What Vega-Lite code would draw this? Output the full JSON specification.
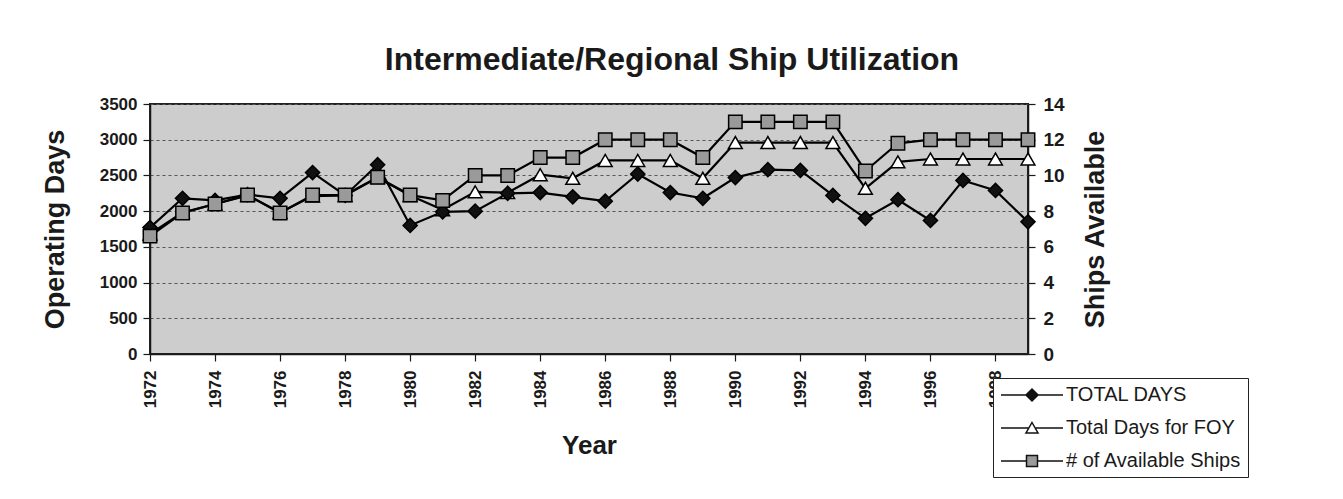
{
  "$schema": "https://vega.github.io/schema/vega-lite/v6.json",
  "width": 878,
  "height": 250,
  "autosize": {"type": "none"},
  "padding": {"left": 150, "top": 104, "right": 315, "bottom": 145},
  "background": "white",
  "title": {
    "text": "Intermediate/Regional Ship Utilization",
    "font": "Liberation Sans",
    "fontSize": 32,
    "fontWeight": "bold",
    "color": "#1a1a1a",
    "anchor": "middle",
    "frame": "group",
    "dx": 83,
    "offset": 18
  },
  "config": {
    "font": "Liberation Sans",
    "view": {"fill": "#cdcdcd", "stroke": "#222222", "strokeWidth": 2},
    "axis": {
      "labelFont": "Liberation Sans",
      "labelFontWeight": "bold",
      "labelColor": "#1a1a1a",
      "titleFont": "Liberation Sans",
      "titleFontWeight": "bold",
      "titleColor": "#1a1a1a",
      "domainColor": "#1a1a1a",
      "domainWidth": 1.5,
      "tickColor": "#1a1a1a",
      "tickWidth": 1.2,
      "tickSize": 7
    },
    "legend": {
      "title": null,
      "orient": "none",
      "legendX": 843,
      "legendY": 274,
      "fillColor": "white",
      "strokeColor": "#222222",
      "padding": 6,
      "rowPadding": 12,
      "symbolSize": 400,
      "symbolOffset": 22,
      "labelOffset": 23,
      "labelFont": "Liberation Sans",
      "labelFontSize": 20,
      "labelColor": "#1a1a1a",
      "labelLimit": 300,
      "symbolStrokeWidth": 1.5
    }
  },
  "data": {
    "values": [
      {"year": 1972, "series": "TOTAL DAYS", "value": 1770},
      {"year": 1973, "series": "TOTAL DAYS", "value": 2180},
      {"year": 1974, "series": "TOTAL DAYS", "value": 2150},
      {"year": 1975, "series": "TOTAL DAYS", "value": 2230},
      {"year": 1976, "series": "TOTAL DAYS", "value": 2180},
      {"year": 1977, "series": "TOTAL DAYS", "value": 2540},
      {"year": 1978, "series": "TOTAL DAYS", "value": 2220},
      {"year": 1979, "series": "TOTAL DAYS", "value": 2650},
      {"year": 1980, "series": "TOTAL DAYS", "value": 1800},
      {"year": 1981, "series": "TOTAL DAYS", "value": 1990},
      {"year": 1982, "series": "TOTAL DAYS", "value": 2000},
      {"year": 1983, "series": "TOTAL DAYS", "value": 2250},
      {"year": 1984, "series": "TOTAL DAYS", "value": 2260},
      {"year": 1985, "series": "TOTAL DAYS", "value": 2200},
      {"year": 1986, "series": "TOTAL DAYS", "value": 2140},
      {"year": 1987, "series": "TOTAL DAYS", "value": 2520},
      {"year": 1988, "series": "TOTAL DAYS", "value": 2260},
      {"year": 1989, "series": "TOTAL DAYS", "value": 2180},
      {"year": 1990, "series": "TOTAL DAYS", "value": 2470},
      {"year": 1991, "series": "TOTAL DAYS", "value": 2580},
      {"year": 1992, "series": "TOTAL DAYS", "value": 2570},
      {"year": 1993, "series": "TOTAL DAYS", "value": 2220},
      {"year": 1994, "series": "TOTAL DAYS", "value": 1900},
      {"year": 1995, "series": "TOTAL DAYS", "value": 2160},
      {"year": 1996, "series": "TOTAL DAYS", "value": 1870},
      {"year": 1997, "series": "TOTAL DAYS", "value": 2430},
      {"year": 1998, "series": "TOTAL DAYS", "value": 2290},
      {"year": 1999, "series": "TOTAL DAYS", "value": 1850},
      {"year": 1972, "series": "Total Days for FOY", "value": 1680},
      {"year": 1973, "series": "Total Days for FOY", "value": 1980},
      {"year": 1974, "series": "Total Days for FOY", "value": 2100},
      {"year": 1975, "series": "Total Days for FOY", "value": 2220},
      {"year": 1976, "series": "Total Days for FOY", "value": 1980},
      {"year": 1977, "series": "Total Days for FOY", "value": 2210},
      {"year": 1978, "series": "Total Days for FOY", "value": 2220},
      {"year": 1979, "series": "Total Days for FOY", "value": 2470},
      {"year": 1980, "series": "Total Days for FOY", "value": 2220},
      {"year": 1981, "series": "Total Days for FOY", "value": 2020},
      {"year": 1982, "series": "Total Days for FOY", "value": 2270},
      {"year": 1983, "series": "Total Days for FOY", "value": 2260},
      {"year": 1984, "series": "Total Days for FOY", "value": 2510},
      {"year": 1985, "series": "Total Days for FOY", "value": 2460},
      {"year": 1986, "series": "Total Days for FOY", "value": 2710},
      {"year": 1987, "series": "Total Days for FOY", "value": 2710},
      {"year": 1988, "series": "Total Days for FOY", "value": 2710},
      {"year": 1989, "series": "Total Days for FOY", "value": 2460},
      {"year": 1990, "series": "Total Days for FOY", "value": 2960},
      {"year": 1991, "series": "Total Days for FOY", "value": 2960},
      {"year": 1992, "series": "Total Days for FOY", "value": 2960},
      {"year": 1993, "series": "Total Days for FOY", "value": 2960},
      {"year": 1994, "series": "Total Days for FOY", "value": 2320},
      {"year": 1995, "series": "Total Days for FOY", "value": 2690},
      {"year": 1996, "series": "Total Days for FOY", "value": 2730},
      {"year": 1997, "series": "Total Days for FOY", "value": 2730},
      {"year": 1998, "series": "Total Days for FOY", "value": 2730},
      {"year": 1999, "series": "Total Days for FOY", "value": 2730},
      {"year": 1972, "series": "# of Available Ships", "value": 6.6},
      {"year": 1973, "series": "# of Available Ships", "value": 7.9},
      {"year": 1974, "series": "# of Available Ships", "value": 8.4},
      {"year": 1975, "series": "# of Available Ships", "value": 8.9},
      {"year": 1976, "series": "# of Available Ships", "value": 7.9},
      {"year": 1977, "series": "# of Available Ships", "value": 8.9},
      {"year": 1978, "series": "# of Available Ships", "value": 8.9},
      {"year": 1979, "series": "# of Available Ships", "value": 9.9},
      {"year": 1980, "series": "# of Available Ships", "value": 8.9},
      {"year": 1981, "series": "# of Available Ships", "value": 8.6},
      {"year": 1982, "series": "# of Available Ships", "value": 10},
      {"year": 1983, "series": "# of Available Ships", "value": 10},
      {"year": 1984, "series": "# of Available Ships", "value": 11},
      {"year": 1985, "series": "# of Available Ships", "value": 11},
      {"year": 1986, "series": "# of Available Ships", "value": 12},
      {"year": 1987, "series": "# of Available Ships", "value": 12},
      {"year": 1988, "series": "# of Available Ships", "value": 12},
      {"year": 1989, "series": "# of Available Ships", "value": 11},
      {"year": 1990, "series": "# of Available Ships", "value": 13},
      {"year": 1991, "series": "# of Available Ships", "value": 13},
      {"year": 1992, "series": "# of Available Ships", "value": 13},
      {"year": 1993, "series": "# of Available Ships", "value": 13},
      {"year": 1994, "series": "# of Available Ships", "value": 10.25},
      {"year": 1995, "series": "# of Available Ships", "value": 11.8},
      {"year": 1996, "series": "# of Available Ships", "value": 12},
      {"year": 1997, "series": "# of Available Ships", "value": 12},
      {"year": 1998, "series": "# of Available Ships", "value": 12},
      {"year": 1999, "series": "# of Available Ships", "value": 12}
    ]
  },
  "layer": [
    {
      "transform": [{"filter": "datum.series !== '# of Available Ships'"}],
      "encoding": {
        "x": {
          "field": "year",
          "type": "quantitative",
          "scale": {"domain": [1972, 1999], "nice": false, "zero": false},
          "axis": {
            "values": [1972, 1973, 1974, 1975, 1976, 1977, 1978, 1979, 1980, 1981, 1982, 1983, 1984, 1985, 1986, 1987, 1988, 1989, 1990, 1991, 1992, 1993, 1994, 1995, 1996, 1997, 1998, 1999],
            "format": "d",
            "labelExpr": "datum.value % 2 === 0 ? datum.label : ''",
            "labelAngle": 270,
            "labelFontSize": 17,
            "labelPadding": 9,
            "labelOverlap": false,
            "title": "Year",
            "titleFontSize": 26,
            "titlePadding": 25,
            "grid": false
          }
        },
        "y": {
          "field": "value",
          "type": "quantitative",
          "scale": {"domain": [0, 3500], "nice": false, "zero": true},
          "axis": {
            "values": [0, 500, 1000, 1500, 2000, 2500, 3000, 3500],
            "format": "d",
            "title": "Operating Days",
            "titleFontSize": 27,
            "titlePadding": 30,
            "labelFontSize": 17,
            "labelPadding": 6,
            "grid": true,
            "gridColor": "#555555",
            "gridDash": [3, 3],
            "gridWidth": 1
          }
        }
      },
      "layer": [
        {
          "mark": {"type": "line", "color": "black", "strokeWidth": 2.2},
          "encoding": {"detail": {"field": "series"}}
        },
        {
          "transform": [{"filter": "datum.series === 'Total Days for FOY'"}],
          "mark": {"type": "point", "shape": "triangle-up", "filled": true, "fill": "#ffffff", "stroke": "black", "strokeWidth": 1.5, "size": 190, "opacity": 1},
          "encoding": {}
        },
        {
          "transform": [{"filter": "datum.series === 'TOTAL DAYS'"}],
          "mark": {"type": "point", "shape": "diamond", "filled": true, "fill": "#111111", "stroke": "black", "strokeWidth": 1.5, "size": 200, "opacity": 1},
          "encoding": {}
        },
        {
          "transform": [{"filter": "false"}],
          "mark": {"type": "point", "filled": true, "strokeWidth": 1.5, "opacity": 1},
          "encoding": {
            "shape": {
              "field": "series",
              "type": "nominal",
              "scale": {"domain": ["TOTAL DAYS", "Total Days for FOY", "# of Available Ships"], "range": ["M-3.1,0L-0.6,0M0.6,0L3.1,0M0,-0.6L0.6,0L0,0.6L-0.6,0Z", "M-3.1,0L-0.31,0M0.31,0L3.1,0M0,-0.55L0.6,0.5L-0.6,0.5Z", "M-3.1,0L-0.55,0M0.55,0L3.1,0M-0.55,-0.55L0.55,-0.55L0.55,0.55L-0.55,0.55Z"]}
            },
            "fill": {
              "field": "series",
              "type": "nominal",
              "scale": {"domain": ["TOTAL DAYS", "Total Days for FOY", "# of Available Ships"], "range": ["#111111", "#ffffff", "#9a9a9a"]}
            },
            "stroke": {
              "field": "series",
              "type": "nominal",
              "scale": {"domain": ["TOTAL DAYS", "Total Days for FOY", "# of Available Ships"], "range": ["#111111", "#111111", "#111111"]}
            }
          }
        }
      ]
    },
    {
      "transform": [{"filter": "datum.series === '# of Available Ships'"}],
      "encoding": {
        "x": {"field": "year", "type": "quantitative", "scale": {"domain": [1972, 1999], "nice": false, "zero": false}},
        "y": {
          "field": "value",
          "type": "quantitative",
          "scale": {"domain": [0, 14], "nice": false, "zero": true},
          "axis": {
            "orient": "right",
            "values": [0, 2, 4, 6, 8, 10, 12, 14],
            "title": "Ships Available",
            "titleAngle": 270,
            "titleBaseline": "top",
            "titleFontSize": 27,
            "titlePadding": 18,
            "labelFontSize": 19,
            "labelPadding": 8,
            "grid": false
          }
        }
      },
      "layer": [
        {
          "mark": {"type": "line", "color": "black", "strokeWidth": 2.2},
          "encoding": {"detail": {"field": "series"}}
        },
        {
          "mark": {"type": "point", "shape": "square", "filled": true, "fill": "#9a9a9a", "stroke": "black", "strokeWidth": 1.5, "size": 180, "opacity": 1},
          "encoding": {}
        }
      ]
    }
  ],
  "resolve": {"scale": {"y": "independent"}}
}
